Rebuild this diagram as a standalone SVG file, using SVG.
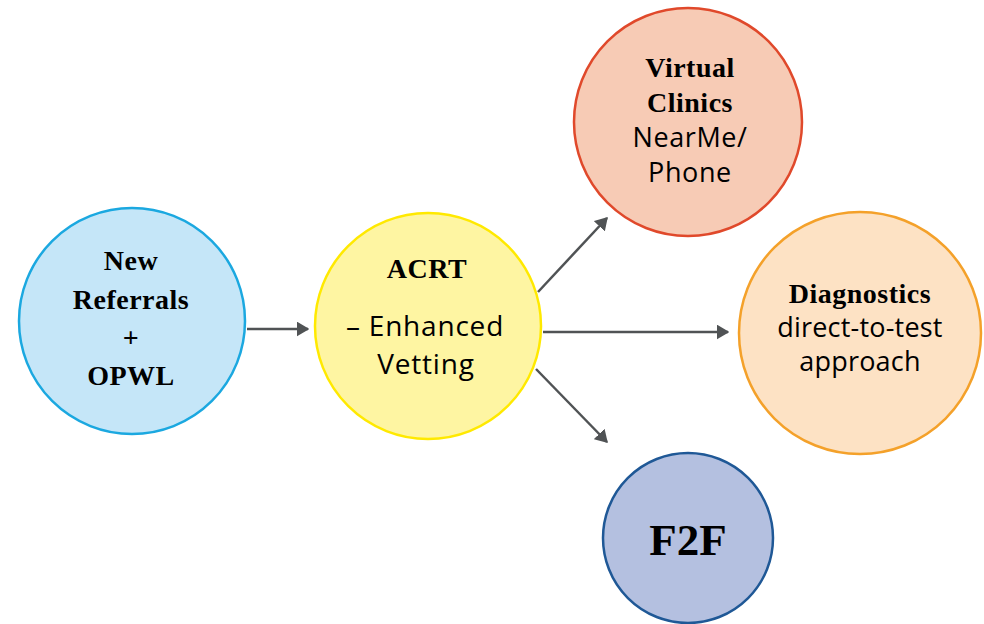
<svg xmlns="http://www.w3.org/2000/svg" width="984" height="624" viewBox="0 0 984 624">
<defs>
<style>
.b{font-family:"Liberation Serif","Times New Roman",serif;font-weight:bold;fill:#000;text-anchor:middle;font-size:28px;letter-spacing:0.5px}
.s{font-family:"Open Sans","Noto Sans",sans-serif;fill:#000;text-anchor:middle}
.c{stroke-width:2.5}
.con{stroke:#505355;stroke-width:2.5;fill:none;marker-end:url(#ah)}
</style>
<marker id="ah" viewBox="0 0 10 12" refX="9" refY="6" markerWidth="5" markerHeight="6" orient="auto" markerUnits="strokeWidth">
<path d="M0,0 L10,6 L0,12 Z" fill="#505355"/>
</marker>
</defs>
<rect width="984" height="624" fill="#fff"/>
<g id="connectors">
<line class="con" x1="247" y1="329" x2="308" y2="329"/>
<line class="con" x1="543" y1="332" x2="728" y2="332"/>
<line class="con" x1="538" y1="292" x2="607" y2="218"/>
<line class="con" x1="536" y1="369" x2="607" y2="442"/>
</g>
<g id="node-referrals">
<circle class="c" cx="132" cy="321" r="113" fill="#C5E6F8" stroke="#1BA8E0"/>
<text class="b" x="131" y="270">New</text>
<text class="b" x="131" y="309">Referrals</text>
<text class="b" x="131" y="347">+</text>
<text class="b" x="131" y="385">OPWL</text>
</g>
<g id="node-acrt">
<circle class="c" cx="428" cy="326" r="113" fill="#FEF5A2" stroke="#FFE900"/>
<text class="b" x="427" y="278">ACRT</text>
<text class="s" x="425" y="336" font-size="28" letter-spacing="0.8">– Enhanced</text>
<text class="s" x="426" y="374" font-size="28" letter-spacing="0.8">Vetting</text>
</g>
<g id="node-virtual">
<circle class="c" cx="688" cy="122" r="114" fill="#F7CBB5" stroke="#E0492B"/>
<text class="b" x="690" y="77">Virtual</text>
<text class="b" x="690" y="112">Clinics</text>
<text class="s" x="690" y="147" font-size="27" letter-spacing="0.6">NearMe/</text>
<text class="s" x="690" y="182" font-size="27" letter-spacing="0.6">Phone</text>
</g>
<g id="node-diagnostics">
<circle class="c" cx="860" cy="333" r="121" fill="#FDE2C4" stroke="#F4A12A"/>
<text class="b" x="860" y="303">Diagnostics</text>
<text class="s" x="860" y="337" font-size="27" letter-spacing="0.2">direct-to-test</text>
<text class="s" x="860" y="371" font-size="27" letter-spacing="0.2">approach</text>
</g>
<g id="node-f2f">
<circle class="c" cx="688" cy="538" r="85" fill="#B4C0E0" stroke="#1F5896"/>
<text class="b" x="688" y="555" style="font-size:45px;letter-spacing:0">F2F</text>
</g>
</svg>
